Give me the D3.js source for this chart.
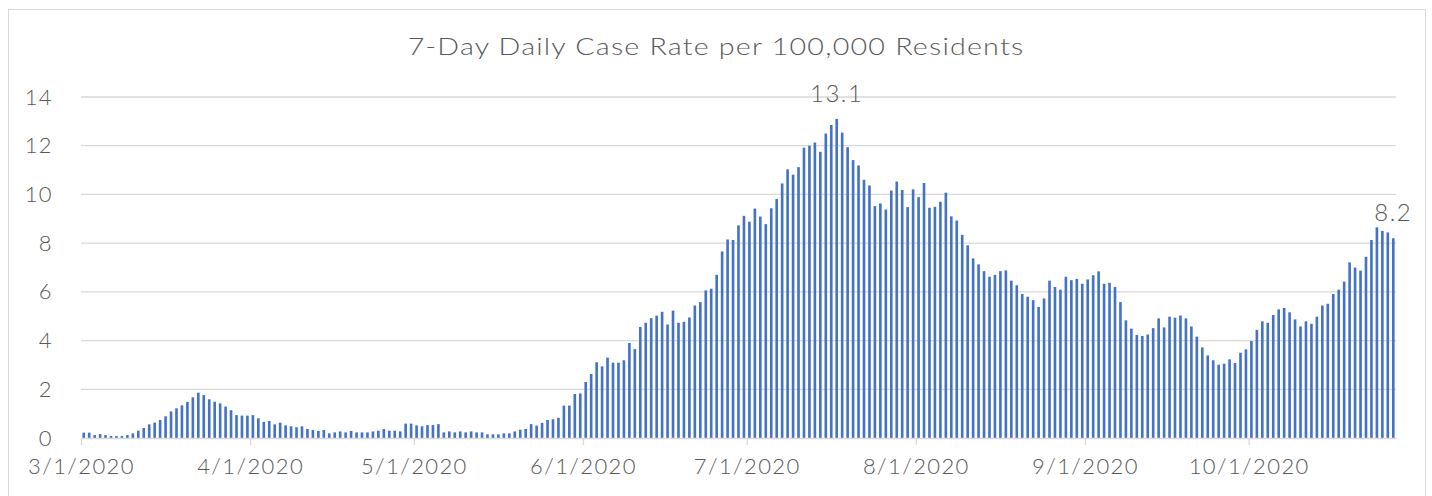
<!DOCTYPE html>
<html>
<head>
<meta charset="utf-8">
<script src="https://cdn.jsdelivr.net/npm/d3@7"></script>
<style>
    body { margin: 0; background: #fff; }
    #chart text { font-family: "Lato", "Open Sans", sans-serif; font-weight: 300; fill: #595959; }
</style>
</head>
<body>
<div id="chart"></div>
<script>
const title = "7-Day Daily Case Rate per 100,000 Residents";

// one entry per day, month by month
const months = ["2020-03", "2020-04", "2020-05", "2020-06", "2020-07", "2020-08", "2020-09", "2020-10"];

const marchRates = [0.22, 0.22, 0.12, 0.16, 0.12, 0.08, 0.08, 0.08, 0.12, 0.19, 0.30, 0.41, 0.56, 0.63, 0.74, 0.89,
    1.09, 1.22, 1.34, 1.48, 1.67, 1.86, 1.76, 1.59, 1.49, 1.42, 1.29, 1.14, 0.94, 0.92, 0.92];
const aprilRates = [0.94, 0.81, 0.66, 0.70, 0.56, 0.63, 0.52, 0.48, 0.44, 0.48, 0.37, 0.33, 0.29, 0.33, 0.19,
    0.23, 0.27, 0.23, 0.29, 0.23, 0.23, 0.23, 0.27, 0.30, 0.37, 0.30, 0.30, 0.27, 0.59, 0.59];
const mayRates = [0.52, 0.48, 0.53, 0.53, 0.57, 0.23, 0.27, 0.23, 0.27, 0.23, 0.27, 0.23, 0.23, 0.15, 0.15, 0.15,
    0.19, 0.19, 0.27, 0.34, 0.37, 0.57, 0.51, 0.62, 0.74, 0.77, 0.83, 1.33, 1.33, 1.81, 1.83];
const juneRates = [2.30, 2.63, 3.11, 2.94, 3.30, 3.09, 3.09, 3.19, 3.90, 3.65, 4.56, 4.73, 4.92, 5.02, 5.18,
    4.66, 5.23, 4.73, 4.77, 4.95, 5.44, 5.58, 6.06, 6.13, 6.70, 7.66, 8.15, 8.13, 8.73, 9.12];
const julyRates = [8.88, 9.42, 9.09, 8.78, 9.43, 9.81, 10.45, 11.03, 10.81, 11.12, 11.92, 12.00, 12.13, 11.75,
    12.50, 12.85, 13.10, 12.54, 11.94, 11.41, 11.19, 10.60, 10.37, 9.52, 9.63, 9.38, 10.16, 10.53, 10.18, 9.48, 10.21];
const augustRates = [9.89, 10.47, 9.45, 9.49, 9.70, 10.07, 9.10, 8.93, 8.34, 7.91, 7.37, 7.13, 6.85, 6.62, 6.70,
    6.85, 6.88, 6.46, 6.27, 5.91, 5.80, 5.66, 5.38, 5.73, 6.46, 6.20, 6.09, 6.62, 6.48, 6.53, 6.33];
const septemberRates = [6.51, 6.68, 6.84, 6.33, 6.37, 6.20, 5.58, 4.83, 4.49, 4.23, 4.19, 4.25, 4.51, 4.91, 4.54,
    4.98, 4.94, 5.03, 4.91, 4.58, 4.16, 3.72, 3.39, 3.19, 3.01, 3.05, 3.23, 3.08, 3.50, 3.64];
const octoberRates = [3.98, 4.44, 4.79, 4.73, 5.05, 5.28, 5.34, 5.16, 4.87, 4.58, 4.79, 4.69, 4.98, 5.44, 5.51,
    5.91, 6.09, 6.42, 7.21, 7.00, 6.87, 7.44, 8.13, 8.65, 8.50, 8.44, 8.20];

const yTicks = [0, 2, 4, 6, 8, 10, 12, 14];

const monthRates = [marchRates, aprilRates, mayRates, juneRates, julyRates, augustRates, septemberRates, octoberRates];
const parseMonth = d3.utcParse("%Y-%m");

const data = [];
monthRates.forEach((vals, m) => {
    const first = parseMonth(months[m]);
    vals.forEach((v, i) => data.push({ date: d3.utcDay.offset(first, i), value: v }));
});

const W = 1432, H = 496;
const plot = { left: 81, right: 1396, top: 97, bottom: 438 };

const svg = d3.select("#chart")
    .append("svg")
    .attr("width", W)
    .attr("height", H);

// outer frame of the chart
svg.append("rect")
    .attr("x", 8.5).attr("y", 9.5)
    .attr("width", 1417).attr("height", 520)
    .attr("fill", "none")
    .attr("stroke", "#d9d9d9");

const xTime = d3.scaleUtc()
    .domain([data[0].date, d3.utcDay.offset(data[data.length - 1].date, 1)])
    .range([plot.left, plot.right]);

const x = d3.scaleBand()
    .domain(data.map(d => +d.date))
    .range([plot.left, plot.right])
    .paddingInner(0.52)
    .paddingOuter(0.26);

const y = d3.scaleLinear()
    .domain([0, 14])
    .range([plot.bottom, plot.top]);

// gridlines
svg.append("g")
    .selectAll("line")
    .data(yTicks.filter(t => t > 0))
    .join("line")
    .attr("x1", plot.left).attr("x2", plot.right)
    .attr("y1", d => y(d)).attr("y2", d => y(d))
    .attr("stroke", "#d9d9d9")
    .attr("stroke-width", 1.3);

// y labels
const yAxis = svg.append("g")
    .attr("transform", `translate(${plot.left},0)`)
    .call(d3.axisLeft(y).tickValues(yTicks).tickSize(0).tickPadding(28));
yAxis.select(".domain").remove();
yAxis.selectAll("text")
    .style("font-size", "22px")
    .style("letter-spacing", "1.4px");

// bars
svg.append("g")
    .selectAll("rect")
    .data(data)
    .join("rect")
    .attr("x", d => x(+d.date))
    .attr("width", x.bandwidth())
    .attr("y", d => y(d.value))
    .attr("height", d => y(0) - y(d.value))
    .attr("fill", "#4472c4");

// x axis
const monthStarts = months.map(m => parseMonth(m));
const xAxis = svg.append("g")
    .attr("transform", `translate(0,${plot.bottom})`)
    .call(d3.axisBottom(xTime)
        .tickValues(monthStarts)
        .tickFormat(d3.utcFormat("%-m/%-d/%Y"))
        .tickSizeInner(7)
        .tickSizeOuter(0)
        .tickPadding(13));
xAxis.select(".domain").attr("stroke", "#d9d9d9").attr("stroke-width", 1.3);
xAxis.selectAll(".tick line").attr("stroke", "#d9d9d9").attr("stroke-width", 1.3);
xAxis.selectAll("text")
    .style("font-size", "22px")
    .style("letter-spacing", "1.4px");

// value labels on the peak and the latest day
const fmt = d3.format(".1f");
const labelled = [data[d3.maxIndex(data, d => d.value)], data[data.length - 1]];
svg.append("g")
    .selectAll("text")
    .data(labelled)
    .join("text")
    .attr("x", d => x(+d.date) + x.bandwidth() / 2)
    .attr("y", d => y(d.value) - 17)
    .attr("text-anchor", "middle")
    .style("font-size", "24px")
    .style("letter-spacing", "1.5px")
    .text(d => fmt(d.value));

// title: Lato is narrower than the original face, so widen it a bit
const titleText = svg.append("text")
    .attr("text-anchor", "middle")
    .style("font-size", "24px")
    .style("letter-spacing", "1px")
    .text(title);
const titleWidth = titleText.node().getComputedTextLength();
titleText.attr("transform", `translate(716,55) scale(${617 / titleWidth},1)`);
</script>
</body>
</html>
